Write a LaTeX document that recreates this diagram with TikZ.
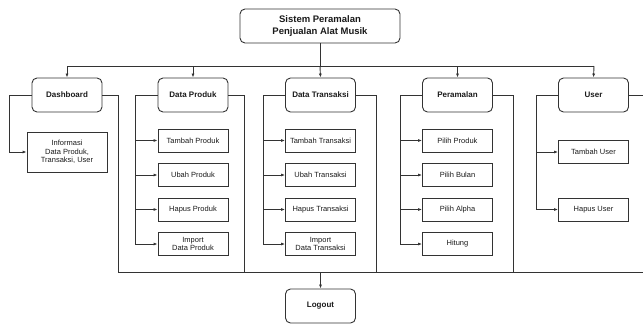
\documentclass[tikz,border=0pt]{standalone}
\usepackage{fontspec}
\setmainfont{Liberation Sans}
\usetikzlibrary{arrows.meta}
\definecolor{ln}{HTML}{333333}
\definecolor{tx}{HTML}{1A1A1A}
\begin{document}
\begin{tikzpicture}[x=1pt,y=-1pt,
  rbox/.style={draw=ln,line width=0.9pt,rounded corners=5pt,minimum width=70pt,minimum height=34pt,align=center,text=tx,inner sep=1pt,font=\fontsize{8}{9.5}\selectfont\bfseries},
  sbox/.style={draw=ln,line width=0.8pt,minimum width=70pt,minimum height=23pt,align=center,text=tx,inner sep=1pt,font=\fontsize{7.5}{8.5}\selectfont},
  con/.style={draw=ln,line width=0.9pt},
  arr/.style={con,-{Latex[length=4pt,width=3pt]}}]
\useasboundingbox (0,0) rectangle (643,325);
% top
\node[rbox,minimum width=160pt,font=\fontsize{9.5}{11.5}\selectfont\bfseries] (top) at (320,26) {Sistem Peramalan\\Penjualan Alat Musik};
% level 1
\node[rbox] (dash) at (67,95) {Dashboard};
\node[rbox] (dp) at (193,95) {Data Produk};
\node[rbox] (dt) at (320.5,95) {Data Transaksi};
\node[rbox] (per) at (457.5,95) {Peramalan};
\node[rbox] (usr) at (593.5,95) {User};
\node[rbox] (logout) at (320.5,306) {Logout};
% sub boxes
\node[sbox,minimum width=80pt,minimum height=40pt] (info) at (67,152) {Informasi\\Data Produk,\\Transaksi, User};
\node[sbox] (dp1) at (193,140.5) {Tambah Produk};
\node[sbox] (dp2) at (193,175) {Ubah Produk};
\node[sbox] (dp3) at (193,209.5) {Hapus Produk};
\node[sbox] (dp4) at (193,244) {Import\\Data Produk};
\node[sbox] (dt1) at (320.5,140.5) {Tambah Transaksi};
\node[sbox] (dt2) at (320.5,175) {Ubah Transaksi};
\node[sbox] (dt3) at (320.5,209.5) {Hapus Transaksi};
\node[sbox] (dt4) at (320.5,244) {Import\\Data Transaksi};
\node[sbox] (pr1) at (457.5,140.5) {Pilih Produk};
\node[sbox] (pr2) at (457.5,175) {Pilih Bulan};
\node[sbox] (pr3) at (457.5,209.5) {Pilih Alpha};
\node[sbox] (pr4) at (457.5,244) {Hitung};
\node[sbox] (us1) at (593.5,152) {Tambah User};
\node[sbox] (us2) at (593.5,209.5) {Hapus User};
% coordinates
\coordinate (bus) at (320,66);
\coordinate (busl) at (67,66);
\coordinate (busr) at (594,66);
\coordinate (dashl) at (9,95);
\coordinate (dpl) at (135,95);
\coordinate (dtl) at (263,95);
\coordinate (prl) at (400,95);
\coordinate (usl) at (536,95);
\coordinate (dashr) at (118,95);
\coordinate (dpr) at (244,95);
\coordinate (dtr) at (376,95);
\coordinate (prr) at (513,95);
\coordinate (usr2) at (643,95);
\coordinate (botl) at (118,272);
\coordinate (botr) at (643,272);
\coordinate (botm) at (320.5,272);
% top connectors
\draw[con] (top.south) -- (bus);
\draw[con] (busl) -- (busr);
\draw[arr] (bus) -- (dt.north);
\draw[arr] (busl) -- (dash.north);
\draw[arr] (dp.north |- bus) -- (dp.north);
\draw[arr] (per.north |- bus) -- (per.north);
\draw[arr] (busr) -- (usr.north);
% dashboard
\draw[arr] (dash.west) -- (dashl) |- (info.west);
% left branches
\draw[con] (dp.west) -- (dpl) -- (dpl |- dp4.west);
\foreach \n in {dp1,dp2,dp3,dp4} \draw[arr] (dpl |- \n.west) -- (\n.west);
\draw[con] (dt.west) -- (dtl) -- (dtl |- dt4.west);
\foreach \n in {dt1,dt2,dt3,dt4} \draw[arr] (dtl |- \n.west) -- (\n.west);
\draw[con] (per.west) -- (prl) -- (prl |- pr4.west);
\foreach \n in {pr1,pr2,pr3,pr4} \draw[arr] (prl |- \n.west) -- (\n.west);
\draw[con] (usr.west) -- (usl) -- (usl |- us2.west);
\foreach \n in {us1,us2} \draw[arr] (usl |- \n.west) -- (\n.west);
% right branches to logout bus
\draw[con] (dash.east) -- (dashr) -- (botl);
\draw[con] (dp.east) -- (dpr) -- (dpr |- botl);
\draw[con] (dt.east) -- (dtr) -- (dtr |- botl);
\draw[con] (per.east) -- (prr) -- (prr |- botl);
\draw[con] (usr.east) -- (usr2);
\draw[con] (botl) -- (botr);
\draw[arr] (botm) -- (logout.north);
\end{tikzpicture}
\end{document}
